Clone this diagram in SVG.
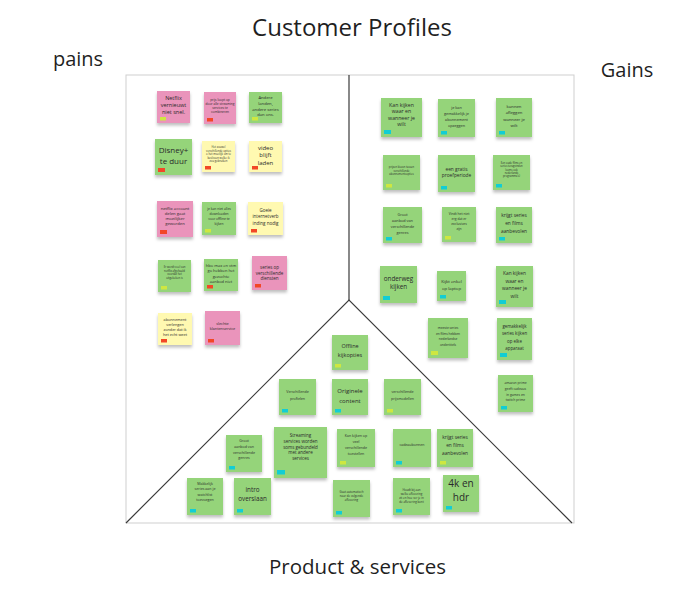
<svg xmlns="http://www.w3.org/2000/svg" width="696" height="598" viewBox="0 0 696 598">
  <style>
    .ttl { font-family: "Open Sans", "Noto Sans", sans-serif; fill: #1f1f1f; }
    .n { filter: url(#sh); }
    .pk { fill: #ea94bb; }
    .gr { fill: #95d47a; }
    .ye { fill: #fff9b1; }
    .r { fill: #f24726; }
    .c { fill: #12cdd4; }
    .l { fill: #cee741; }
    .t { font-family: "Open Sans", "Noto Sans", sans-serif; fill: #2a2a2a; text-anchor: middle; }
    .frame { fill: none; stroke: #cfcfcf; stroke-width: 1; }
    .div { fill: none; stroke: #3a3a3a; stroke-width: 1.2; }
  </style>
  <defs>
    <filter id="sh" x="-20%" y="-20%" width="140%" height="150%">
      <feDropShadow dx="0" dy="2.5" stdDeviation="1.5" flood-color="#000" flood-opacity="0.25"/>
    </filter>
  </defs>
  <rect width="696" height="598" fill="#ffffff"/>

  <!-- titles -->
  <text class="ttl" x="352" y="36" font-size="24" text-anchor="middle">Customer Profiles</text>
  <text class="ttl" x="78" y="66" font-size="20" text-anchor="middle">pains</text>
  <text class="ttl" x="627" y="77" font-size="20" text-anchor="middle">Gains</text>
  <text class="ttl" x="357.5" y="574" font-size="20.5" text-anchor="middle">Product &amp; services</text>

  <!-- frame and dividers -->
  <g id="connectors">
    <rect class="frame" x="126" y="75" width="448" height="448"/>
    <polyline class="div" points="349,75 349,300"/>
    <polyline class="div" points="126,523 349,300 572,523"/>
  </g>

  <!-- pains -->
  <g id="p1"><rect class="n pk" x="157" y="91" width="33" height="32"/><rect class="l" x="160" y="117" width="6" height="3.5"/>
    <text class="t" font-size="5.5"><tspan x="173.5" y="100">Netflix</tspan><tspan x="173.5" y="107">vernieuwt</tspan><tspan x="173.5" y="114">niet snel.</tspan></text></g>
  <g id="p2"><rect class="n pk" x="204" y="92" width="32" height="32"/><rect class="r" x="207" y="118" width="6" height="3.5"/>
    <text class="t" font-size="3.2"><tspan x="220" y="101">prijs loopt op</tspan><tspan x="220" y="105">door alle streaming</tspan><tspan x="220" y="109">services te</tspan><tspan x="220" y="113">combineren</tspan></text></g>
  <g id="p3"><rect class="n gr" x="249" y="92" width="33" height="31"/><rect class="l" x="252" y="117" width="6" height="3.5"/>
    <text class="t" font-size="4.2"><tspan x="265.5" y="98.5">Andere</tspan><tspan x="265.5" y="104.5">landen,</tspan><tspan x="265.5" y="110.5">andere series</tspan><tspan x="265.5" y="116">dan ons.</tspan></text></g>
  <g id="p4"><rect class="n gr" x="155" y="139" width="37" height="36"/><rect class="r" x="158" y="168" width="7" height="4"/>
    <text class="t" font-size="8"><tspan x="173.5" y="153">Disney+</tspan><tspan x="173.5" y="164">te duur</tspan></text></g>
  <g id="p5"><rect class="n ye" x="202" y="141" width="33" height="31"/><rect class="r" x="205" y="166" width="6" height="3.5"/>
    <text class="t" font-size="2.7"><tspan x="218.5" y="148">Het zouwel</tspan><tspan x="218.5" y="151.5">verschillende opties</tspan><tspan x="218.5" y="155">o het moeilijk om te</tspan><tspan x="218.5" y="158.5">beslissen welke ik</tspan><tspan x="218.5" y="162">zou gebruiken</tspan></text></g>
  <g id="p6"><rect class="n ye" x="249" y="141" width="33" height="31"/><rect class="r" x="252" y="166" width="6" height="3.5"/>
    <text class="t" font-size="6"><tspan x="265.5" y="150">video</tspan><tspan x="265.5" y="157">blijft</tspan><tspan x="265.5" y="164.5">laden</tspan></text></g>
  <g id="p7"><rect class="n pk" x="157" y="201" width="36" height="36"/><rect class="r" x="160" y="230" width="7" height="4"/>
    <text class="t" font-size="4.2"><tspan x="175" y="209.5">netflix account</tspan><tspan x="175" y="214.5">delen gaat</tspan><tspan x="175" y="219.5">moeilijker</tspan><tspan x="175" y="224.5">geworden</tspan></text></g>
  <g id="p8"><rect class="n gr" x="202" y="202" width="34" height="33"/><rect class="l" x="205" y="229" width="6" height="3.5"/>
    <text class="t" font-size="3.3"><tspan x="219" y="210">je kan niet alles</tspan><tspan x="219" y="215">downloaden</tspan><tspan x="219" y="220">voor offline te</tspan><tspan x="219" y="225">kijken</tspan></text></g>
  <g id="p9"><rect class="n ye" x="248" y="202" width="35" height="33"/><rect class="r" x="251" y="229" width="6" height="3.5"/>
    <text class="t" font-size="4.5"><tspan x="265.5" y="211.5">Goeie</tspan><tspan x="265.5" y="218">internetverb</tspan><tspan x="265.5" y="224.5">inding nodig</tspan></text></g>
  <g id="p10"><rect class="n gr" x="158" y="260" width="33" height="32"/><rect class="l" x="161" y="286" width="6" height="3.5"/>
    <text class="t" font-size="2.7"><tspan x="174.5" y="268">Er wordt veel van</tspan><tspan x="174.5" y="271.5">netflix afgehaald</tspan><tspan x="174.5" y="275">voordat het</tspan><tspan x="174.5" y="278.5">uitgekeken is</tspan></text></g>
  <g id="p11"><rect class="n gr" x="204" y="259" width="34" height="32"/><rect class="r" x="207" y="285" width="6" height="3.5"/>
    <text class="t" font-size="4"><tspan x="221" y="266.5">hbo max en vtm</tspan><tspan x="221" y="272">go hebben het</tspan><tspan x="221" y="277.5">gezochte</tspan><tspan x="221" y="282.5">aanbod niet</tspan></text></g>
  <g id="p12"><rect class="n pk" x="252" y="256" width="35" height="34"/><rect class="r" x="255" y="284" width="6" height="3.5"/>
    <text class="t" font-size="4.5"><tspan x="269.5" y="268.5">series op</tspan><tspan x="269.5" y="274.5">verschillende</tspan><tspan x="269.5" y="280">diensten</tspan></text></g>
  <g id="p13"><rect class="n ye" x="158" y="313" width="34" height="32"/><rect class="r" x="161" y="339" width="6" height="3.5"/>
    <text class="t" font-size="3.8"><tspan x="175" y="320.5">abonnement</tspan><tspan x="175" y="325.5">verlengen</tspan><tspan x="175" y="330.5">zonder dat ik</tspan><tspan x="175" y="336">het echt weet</tspan></text></g>
  <g id="p14"><rect class="n pk" x="205" y="311" width="35" height="34"/><rect class="r" x="208" y="339" width="6" height="3.5"/>
    <text class="t" font-size="3.8"><tspan x="222.5" y="324.5">slechte</tspan><tspan x="222.5" y="329.5">klantenservice</tspan></text></g>

  <!-- gains -->
  <g id="g1"><rect class="n gr" x="381" y="98" width="41" height="39"/><rect class="c" x="384" y="130" width="7" height="4"/>
    <text class="t" font-size="5.2"><tspan x="401.5" y="106.5">Kan kijken</tspan><tspan x="401.5" y="113">waar en</tspan><tspan x="401.5" y="119.5">wanneer je</tspan><tspan x="401.5" y="126">wilt</tspan></text></g>
  <g id="g2"><rect class="n gr" x="438" y="99" width="37" height="38"/><rect class="c" x="441" y="131" width="6" height="3.5"/>
    <text class="t" font-size="3.8"><tspan x="456.5" y="108.5">je kan</tspan><tspan x="456.5" y="114.5">gemakkelijk je</tspan><tspan x="456.5" y="120.5">abonnement</tspan><tspan x="456.5" y="126.5">opzeggen</tspan></text></g>
  <g id="g3"><rect class="n gr" x="496" y="98" width="36" height="39"/><rect class="c" x="499" y="131" width="6" height="3.5"/>
    <text class="t" font-size="4.2"><tspan x="514" y="107.5">kunnen</tspan><tspan x="514" y="113.5">afleggen</tspan><tspan x="514" y="120.5">wanneer je</tspan><tspan x="514" y="126.5">wilt</tspan></text></g>
  <g id="g4"><rect class="n gr" x="383" y="155" width="37" height="35"/><rect class="l" x="386" y="184" width="6" height="3.5"/>
    <text class="t" font-size="2.6"><tspan x="401.5" y="168">prijzen kiezen tussen</tspan><tspan x="401.5" y="171.5">verschillende</tspan><tspan x="401.5" y="175">abonnementsopties</tspan></text></g>
  <g id="g5"><rect class="n gr" x="438" y="155" width="37" height="37"/><rect class="c" x="441" y="186" width="6" height="3.5"/>
    <text class="t" font-size="4.8"><tspan x="456.5" y="170.5">een gratis</tspan><tspan x="456.5" y="176.5">proefperiode</tspan></text></g>
  <g id="g6"><rect class="n gr" x="493" y="155" width="37" height="35"/><rect class="c" x="496" y="184" width="6" height="3.5"/>
    <text class="t" font-size="2.6"><tspan x="511.5" y="164">Een oude films en</tspan><tspan x="511.5" y="167.3">series terugvinden</tspan><tspan x="511.5" y="170.6">(soms ook</tspan><tspan x="511.5" y="173.9">nederlands</tspan><tspan x="511.5" y="177.2">programma's)</tspan></text></g>
  <g id="g7"><rect class="n gr" x="383" y="207" width="39" height="36"/><rect class="c" x="386" y="237" width="6" height="3.5"/>
    <text class="t" font-size="3.8"><tspan x="402.5" y="215.5">Groot</tspan><tspan x="402.5" y="222">aanbod van</tspan><tspan x="402.5" y="228">verschillende</tspan><tspan x="402.5" y="234">genres</tspan></text></g>
  <g id="g8"><rect class="n gr" x="442" y="207" width="34" height="35"/><rect class="l" x="445" y="236" width="6" height="3.5"/>
    <text class="t" font-size="3.3"><tspan x="459" y="214.5">Vindt het niet</tspan><tspan x="459" y="219.5">erg dat er</tspan><tspan x="459" y="224.5">exclusives</tspan><tspan x="459" y="229.5">zijn</tspan></text></g>
  <g id="g9"><rect class="n gr" x="496" y="207" width="36" height="36"/><rect class="c" x="499" y="237" width="6" height="3.5"/>
    <text class="t" font-size="4.8"><tspan x="514" y="216.5">krijgt series</tspan><tspan x="514" y="224.5">en films</tspan><tspan x="514" y="233">aanbevolen</tspan></text></g>
  <g id="g10"><rect class="n gr" x="380" y="266" width="37" height="37"/><rect class="c" x="383" y="296" width="7" height="4"/>
    <text class="t" font-size="6.3"><tspan x="398.5" y="281">onderweg</tspan><tspan x="398.5" y="289">kijken</tspan></text></g>
  <g id="g11"><rect class="n gr" x="437" y="271" width="29" height="30"/><rect class="c" x="440" y="295" width="6" height="3.5"/>
    <text class="t" font-size="4.3"><tspan x="451.5" y="282.5">Kijkt enkel</tspan><tspan x="451.5" y="289.5">op laptop</tspan></text></g>
  <g id="g12"><rect class="n gr" x="496" y="266" width="37" height="41"/><rect class="c" x="499" y="300" width="7" height="4"/>
    <text class="t" font-size="4.8"><tspan x="514.5" y="274.5">Kan kijken</tspan><tspan x="514.5" y="282.5">waar en</tspan><tspan x="514.5" y="289.5">wanneer je</tspan><tspan x="514.5" y="297.5">wilt</tspan></text></g>
  <g id="g13"><rect class="n gr" x="428" y="318" width="40" height="40"/><rect class="l" x="431" y="351" width="7" height="4"/>
    <text class="t" font-size="3.2"><tspan x="448" y="329">meeste series</tspan><tspan x="448" y="334.5">en films hebben</tspan><tspan x="448" y="340">nederlandse</tspan><tspan x="448" y="346">ondertitels</tspan></text></g>
  <g id="g14"><rect class="n gr" x="497" y="318" width="35" height="42"/><rect class="c" x="500" y="353" width="7" height="4"/>
    <text class="t" font-size="4.4"><tspan x="514.5" y="327.5">gemakkelijk</tspan><tspan x="514.5" y="334.5">series kijken</tspan><tspan x="514.5" y="342.5">op elke</tspan><tspan x="514.5" y="349.5">apparaat</tspan></text></g>
  <g id="g15"><rect class="n gr" x="498" y="375" width="35" height="37"/><rect class="c" x="501" y="406" width="6" height="3.5"/>
    <text class="t" font-size="3.3"><tspan x="515.5" y="384">amazon prime</tspan><tspan x="515.5" y="390">geeft cadeaus</tspan><tspan x="515.5" y="395.5">in games en</tspan><tspan x="515.5" y="401">twitch prime</tspan></text></g>

  <!-- product & services -->
  <g id="s1"><rect class="n gr" x="332" y="335" width="36" height="35"/><rect class="l" x="335" y="364" width="6" height="3.5"/>
    <text class="t" font-size="5.5"><tspan x="350" y="348">Offline</tspan><tspan x="350" y="357">kijkopties</tspan></text></g>
  <g id="s2"><rect class="n gr" x="279" y="379" width="37" height="36"/><rect class="c" x="282" y="409" width="6" height="3.5"/>
    <text class="t" font-size="3.6"><tspan x="297.5" y="393">Verschillende</tspan><tspan x="297.5" y="400">profielen</tspan></text></g>
  <g id="s3"><rect class="n gr" x="332" y="379" width="36" height="36"/><rect class="c" x="335" y="409" width="6" height="3.5"/>
    <text class="t" font-size="6"><tspan x="350" y="393">Originele</tspan><tspan x="350" y="403">content</tspan></text></g>
  <g id="s4"><rect class="n gr" x="384" y="379" width="37" height="36"/><rect class="l" x="387" y="409" width="6" height="3.5"/>
    <text class="t" font-size="3.6"><tspan x="402.5" y="393">verschillende</tspan><tspan x="402.5" y="399.5">prijsmodellen</tspan></text></g>
  <g id="s5"><rect class="n gr" x="226" y="435" width="36" height="37"/><rect class="c" x="229" y="466" width="6" height="3.5"/>
    <text class="t" font-size="3.6"><tspan x="244" y="442">Groot</tspan><tspan x="244" y="448">aanbod van</tspan><tspan x="244" y="453.5">verschillende</tspan><tspan x="244" y="459">genres</tspan></text></g>
  <g id="s6"><rect class="n gr" x="274" y="427" width="53" height="51"/><rect class="c" x="277" y="470" width="8" height="4.5"/>
    <text class="t" font-size="4.5"><tspan x="300.5" y="436.5">Streaming</tspan><tspan x="300.5" y="442.5">services worden</tspan><tspan x="300.5" y="448.5">soms gebundeld</tspan><tspan x="300.5" y="454">met andere</tspan><tspan x="300.5" y="460">services</tspan></text></g>
  <g id="s7"><rect class="n gr" x="187" y="478" width="36" height="37"/><rect class="c" x="190" y="509" width="6" height="3.5"/>
    <text class="t" font-size="3.6"><tspan x="205" y="484.5">Makkelijk</tspan><tspan x="205" y="490">series aan je</tspan><tspan x="205" y="495.5">watchlist</tspan><tspan x="205" y="501">toevoegen</tspan></text></g>
  <g id="s8"><rect class="n gr" x="234" y="478" width="37" height="37"/><rect class="c" x="237" y="509" width="6" height="3.5"/>
    <text class="t" font-size="6.3"><tspan x="252.5" y="492">intro</tspan><tspan x="252.5" y="501">overslaan</tspan></text></g>
  <g id="s9"><rect class="n gr" x="337" y="429" width="38" height="38"/><rect class="l" x="340" y="461" width="6" height="3.5"/>
    <text class="t" font-size="3.6"><tspan x="356" y="437">Kan kijken op</tspan><tspan x="356" y="443">veel</tspan><tspan x="356" y="448.5">verschillende</tspan><tspan x="356" y="454.5">toestellen</tspan></text></g>
  <g id="s10"><rect class="n gr" x="393" y="429" width="38" height="38"/><rect class="c" x="396" y="461" width="6" height="3.5"/>
    <text class="t" font-size="3.6"><tspan x="412" y="446">cadeaubonnen</tspan></text></g>
  <g id="s11"><rect class="n gr" x="437" y="429" width="36" height="38"/><rect class="l" x="440" y="461" width="6" height="3.5"/>
    <text class="t" font-size="4.8"><tspan x="455" y="438.5">krijgt series</tspan><tspan x="455" y="446.5">en films</tspan><tspan x="455" y="455">aanbevolen</tspan></text></g>
  <g id="s12"><rect class="n gr" x="333" y="480" width="37" height="37"/><rect class="c" x="336" y="511" width="6" height="3.5"/>
    <text class="t" font-size="2.9"><tspan x="351.5" y="493">Gaat automatisch</tspan><tspan x="351.5" y="497">naar de volgende</tspan><tspan x="351.5" y="500.5">aflevering</tspan></text></g>
  <g id="s13"><rect class="n gr" x="393" y="478" width="37" height="37"/><rect class="c" x="396" y="509" width="6" height="3.5"/>
    <text class="t" font-size="2.9"><tspan x="411.5" y="491">Houdt bij aan</tspan><tspan x="411.5" y="495">welke aflevering</tspan><tspan x="411.5" y="499">zit en hoe ver je in</tspan><tspan x="411.5" y="503">de aflevering bent</tspan></text></g>
  <g id="s14"><rect class="n gr" x="443" y="475" width="36" height="37"/><rect class="c" x="446" y="506" width="6" height="3.5"/>
    <text class="t" font-size="10"><tspan x="461" y="486.5">4k en</tspan><tspan x="461" y="500.5">hdr</tspan></text></g>
</svg>
